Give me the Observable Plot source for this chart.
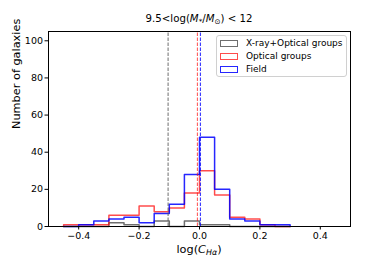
<!DOCTYPE html>
<html><head><meta charset="utf-8">
<script src="https://cdn.jsdelivr.net/npm/d3@7"></script>
<script src="https://cdn.jsdelivr.net/npm/@observablehq/plot@0.6"></script>
<style>
body{margin:0;background:#fff;font-family:"DejaVu Sans",sans-serif;}
#wrap{position:relative;width:389px;height:259px;}
#title{position:absolute;left:0;width:398px;top:13px;line-height:12px;text-align:center;font-size:10.2px;color:#000;}
#xlab{position:absolute;left:0;width:398px;top:243px;line-height:13px;text-align:center;font-size:11.3px;color:#000;}
sub{font-size:0.7em;vertical-align:-0.25em;line-height:0;}
#legend{position:absolute;left:216px;top:35px;width:129px;height:40px;border:1px solid #d0d0d0;border-radius:3px;background:rgba(255,255,255,0.85);font-size:9px;}
.row{position:absolute;left:3px;height:12px;line-height:12px;white-space:nowrap;}
.sw{display:inline-block;width:16px;height:5px;vertical-align:middle;margin-right:8px;box-sizing:content-box;}
</style>
</head><body>
<div id="wrap"></div>
<script>
// Bin edges (log C_Hα), 0.05 wide
const edges = [-0.45,-0.40,-0.35,-0.30,-0.25,-0.20,-0.15,-0.10,-0.05,0.00,0.05,0.10,0.15,0.20,0.25,0.30];
// Counts per bin
const xrayOptical = [0,0,0,2,1,0,3,0,3,1,1,0,0,0,0];
const optical     = [1,1,1,6,6,11,8,10,18,30,17,5,4,1,0];
const field       = [0,1,3,4,5,2,7,12,28,48,20,4,3,1,1];
// Median lines
const medians = [
  {name:"X-ray+Optical groups", x:-0.104},
  {name:"Optical groups", x:-0.007},
  {name:"Field", x:0.003}
];
const seriesNames = ["X-ray+Optical groups","Optical groups","Field"];
const colors = ["#555555","#ff0000","#0000ff"];
const opac = [0.85,0.7,0.85];
const xTicks = [-0.4,-0.2,0.0,0.2,0.4];
const yTicks = [0,20,40,60,80,100];

function outline(counts, name){
  const pts = [{x:edges[0], y:0, s:name}];
  counts.forEach((c,i)=>pts.push({x:edges[i], y:c, s:name}));
  pts.push({x:edges[edges.length-1], y:0, s:name});
  return pts;
}
const allCounts = [xrayOptical, optical, field];

const marks = [];
allCounts.forEach((c,i)=>{
  marks.push(Plot.line(outline(c, seriesNames[i]), {x:"x", y:"y", curve:"step-after", stroke:colors[i], strokeOpacity:opac[i], strokeWidth:1.5}));
});
medians.forEach((m,i)=>{
  marks.push(Plot.ruleX([m], {x:"x", y1:0, y2:105, stroke:colors[i], strokeOpacity:opac[i], strokeWidth:1, strokeDasharray:"3.5,1.5"}));
});
marks.push(Plot.frame({stroke:"#000", strokeWidth:1}));
marks.push(Plot.axisX({ticks:xTicks, tickSize:3.5, tickPadding:2, tickFormat:d3.format(".1f"), label:null, fontSize:9.5}));
marks.push(Plot.axisY({ticks:yTicks, tickSize:3.5, tickPadding:2, label:null, fontSize:9.5}));
marks.push(Plot.text(["Number of galaxies"], {frameAnchor:"left", dx:-32, rotate:-90, fontSize:11.3, fill:"#000"}));

const chart = Plot.plot({
  width:389, height:259,
  marginTop:31, marginLeft:48, marginRight:39, marginBottom:33,
  style:{fontFamily:"DejaVu Sans, sans-serif", fontSize:"9.5px", color:"#000", background:"#fff", overflow:"visible"},
  x:{domain:[-0.5,0.5]},
  y:{domain:[0,105]},
  marks
});
const wrap = document.getElementById("wrap");
wrap.appendChild(chart);

const title = document.createElement("div");
title.id = "title";
title.innerHTML = "9.5&lt;log(<i>M</i><sub>*</sub>/<i>M</i><sub>⊙</sub>) &lt; 12";
wrap.appendChild(title);

const xlab = document.createElement("div");
xlab.id = "xlab";
xlab.innerHTML = "log(<i>C</i><sub><i>Hα</i></sub>)";
wrap.appendChild(xlab);

const leg = document.createElement("div");
leg.id = "legend";
seriesNames.forEach((n,i)=>{
  const r = document.createElement("div");
  r.className = "row";
  r.style.top = (1 + i*13) + "px";
  r.innerHTML = `<span class="sw" style="border:1.5px solid ${colors[i]};opacity:${opac[i]}"></span>${n}`;
  leg.appendChild(r);
});
wrap.appendChild(leg);
</script>
</body></html>
